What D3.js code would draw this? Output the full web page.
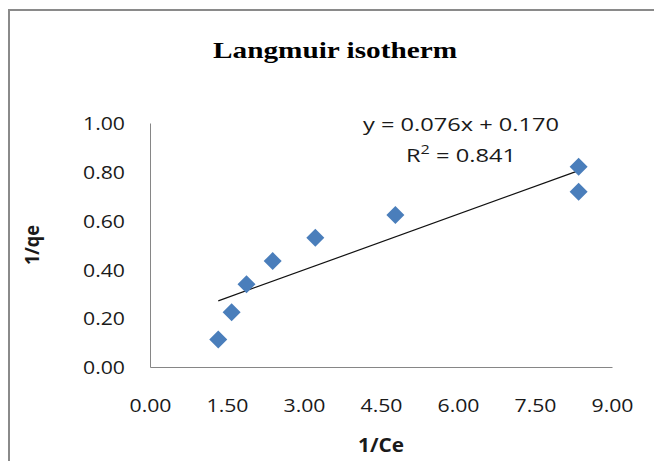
<!DOCTYPE html>
<html>
<head>
<meta charset="utf-8">
<script src="https://cdn.jsdelivr.net/npm/d3@7"></script>
<style>
  body { margin: 0; background: #fff; }
  svg { display: block; }
</style>
</head>
<body>
<script>
const width = 654;
const height = 461;

// data
const invCe = [1.33, 1.59, 1.88, 2.39, 3.22, 4.78, 8.35, 8.35];
const invQe = [0.113, 0.224, 0.339, 0.434, 0.530, 0.623, 0.821, 0.718];
const xTicks = [0, 1.5, 3, 4.5, 6, 7.5, 9];
const yTicks = [0, 0.2, 0.4, 0.6, 0.8, 1.0];
const slope = 0.076;
const intercept = 0.170;
const r2 = 0.841;

const plot = { left: 150, right: 612, top: 123, bottom: 367 };
const tickFont = '"Open Sans", "Noto Sans", sans-serif';

function main() {
  const svg = d3.select('body').append('svg').attr('width', width).attr('height', height);

  // chart frame (runs off the right and bottom edges)
  svg.append('rect')
    .attr('x', 9).attr('y', 10)
    .attr('width', 700).attr('height', 500)
    .attr('fill', 'none')
    .attr('stroke', '#8a8a8a')
    .attr('stroke-width', 2);

  const x = d3.scaleLinear().domain([0, 9]).range([plot.left, plot.right]);
  const y = d3.scaleLinear().domain([0, 1]).range([plot.bottom, plot.top]);

  // axes
  const xAxis = svg.append('g')
    .attr('transform', `translate(0,${plot.bottom})`)
    .call(d3.axisBottom(x).tickValues(xTicks).tickFormat(d3.format('.2f')).tickSize(0).tickPadding(31));
  const yAxis = svg.append('g')
    .attr('transform', `translate(${plot.left},0)`)
    .call(d3.axisLeft(y).tickValues(yTicks).tickFormat(d3.format('.2f')).tickSize(0).tickPadding(25));

  [xAxis, yAxis].forEach(g => {
    g.select('.domain').attr('stroke', '#868686').attr('stroke-width', 1);
    g.selectAll('text')
      .attr('fill', '#1a1a1a')
      .style('font-family', tickFont)
      .style('font-size', '19px')
      .attr('textLength', 42)
      .attr('lengthAdjust', 'spacingAndGlyphs');
  });
  yAxis.selectAll('text').attr('dy', '0.35em');
  xAxis.selectAll('text').attr('dy', '0.75em');

  // trendline from the fitted equation over the data range
  const [xMin, xMax] = d3.extent(invCe);
  svg.append('path')
    .datum([xMin, xMax])
    .attr('d', d3.line().x(d => x(d)).y(d => y(slope * d + intercept)))
    .attr('stroke', '#111')
    .attr('stroke-width', 1.2)
    .attr('fill', 'none');

  // diamond markers
  const pts = invCe.map((v, i) => [v, invQe[i]]);
  svg.selectAll('path.pt')
    .data(pts)
    .enter()
    .append('path')
    .attr('class', 'pt')
    .attr('transform', d => `translate(${x(d[0])},${y(d[1])})`)
    .attr('d', 'M0,-9L9,0L0,9L-9,0Z')
    .attr('fill', '#4a7ebb');

  // equation
  svg.append('text')
    .attr('x', 461).attr('y', 131)
    .attr('text-anchor', 'middle')
    .attr('fill', '#1a1a1a')
    .style('font-family', tickFont)
    .style('font-size', '19px')
    .text(`y = ${slope.toFixed(3)}x + ${intercept.toFixed(3)}`)
    .attr('textLength', 196)
    .attr('lengthAdjust', 'spacingAndGlyphs');

  const r = svg.append('text')
    .attr('x', 461).attr('y', 162)
    .attr('text-anchor', 'middle')
    .attr('fill', '#1a1a1a')
    .style('font-family', tickFont)
    .style('font-size', '19px')
    .attr('textLength', 110)
    .attr('lengthAdjust', 'spacingAndGlyphs');
  r.append('tspan').text('R');
  r.append('tspan').attr('dy', -8).style('font-size', '13px').text('2');
  r.append('tspan').attr('dy', 8).text(` = ${r2.toFixed(3)}`);

  // title
  svg.append('text')
    .attr('x', 335).attr('y', 58)
    .attr('text-anchor', 'middle')
    .style('font-family', '"Liberation Serif", "Times New Roman", serif')
    .style('font-weight', 'bold')
    .style('font-size', '24px')
    .attr('textLength', 244)
    .attr('lengthAdjust', 'spacingAndGlyphs')
    .text('Langmuir isotherm');

  // axis titles
  svg.append('text')
    .attr('x', (plot.left + plot.right) / 2).attr('y', 452)
    .attr('text-anchor', 'middle')
    .attr('fill', '#1a1a1a')
    .style('font-family', tickFont)
    .style('font-weight', 'bold')
    .style('font-size', '19px')
    .attr('textLength', 46)
    .attr('lengthAdjust', 'spacingAndGlyphs')
    .text('1/Ce');

  svg.append('text')
    .attr('transform', `translate(39,${(plot.top + plot.bottom) / 2}) rotate(-90)`)
    .attr('text-anchor', 'middle')
    .attr('fill', '#1a1a1a')
    .style('font-family', tickFont)
    .style('font-weight', 'bold')
    .style('font-size', '19px')
    .attr('textLength', 40)
    .attr('lengthAdjust', 'spacingAndGlyphs')
    .text('1/qe');
}

main();
</script>
</body>
</html>
